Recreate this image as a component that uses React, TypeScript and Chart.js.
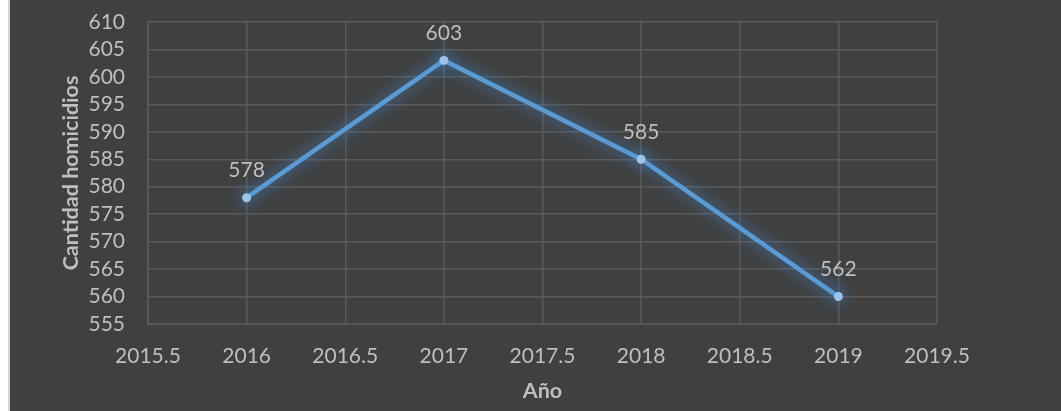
import React, { useEffect, useRef } from "react";
import { Chart, registerables } from "chart.js";

Chart.register(...registerables);

const years = [2016, 2017, 2018, 2019];
const homicidios = [578, 603, 585, 560];
const dataLabels = ["578", "603", "585", "562"];
const xTicks = { min: 2015.5, max: 2019.5, step: 0.5 };
const yTicks = { min: 555, max: 610, step: 5 };

const FONT = "Lato, 'Noto Sans', sans-serif";
const TEXT = "#bfbfbf";
const GRID = "#5a5a5a";

const glowPlugin = {
  id: "glow",
  beforeDatasetDraw(chart: any) {
    const ctx = chart.ctx;
    ctx.save();
    ctx.shadowColor = "rgba(70,140,215,1)";
    ctx.shadowBlur = 16;
  },
  afterDatasetDraw(chart: any) {
    chart.ctx.restore();
  },
};

const labelPlugin = {
  id: "pointLabels",
  afterDatasetsDraw(chart: any) {
    const ctx = chart.ctx;
    const meta = chart.getDatasetMeta(0);
    ctx.save();
    ctx.fillStyle = TEXT;
    ctx.font = `21px ${FONT}`;
    ctx.textAlign = "center";
    ctx.textBaseline = "middle";
    meta.data.forEach((pt: any, i: number) => {
      ctx.fillText(dataLabels[i], pt.x, pt.y - 27);
    });
    ctx.restore();
  },
};

export default function App() {
  const ref = useRef<HTMLCanvasElement | null>(null);

  useEffect(() => {
    if (!ref.current) return;
    const chart = new Chart(ref.current, {
      type: "line",
      data: {
        datasets: [
          {
            data: years.map((y, i) => ({ x: y, y: homicidios[i] })),
            borderColor: "#5b9bd5",
            borderWidth: 4.5,
            pointRadius: 4.5,
            pointBackgroundColor: "#9dc3e6",
            pointBorderColor: "#9dc3e6",
            pointBorderWidth: 0,
            tension: 0,
            clip: false as any,
          },
        ],
      },
      options: {
        responsive: false,
        animation: false,
        layout: { padding: { top: 22, right: 124, left: 0, bottom: 0 } },
        plugins: {
          legend: { display: false },
          tooltip: { enabled: false },
        },
        scales: {
          x: {
            type: "linear",
            min: xTicks.min,
            max: xTicks.max,
            afterFit: (s: any) => {
              s.height = 87;
            },
            ticks: {
              stepSize: xTicks.step,
              autoSkip: false,
              maxRotation: 0,
              color: TEXT,
              font: { family: FONT, size: 21 },
              padding: 20,
              callback: (v: any) => String(v),
            },
            grid: { color: GRID, lineWidth: 1.5, drawTicks: false },
            border: { color: GRID, width: 1.5 },
            title: {
              display: true,
              text: "Año",
              color: TEXT,
              font: { family: FONT, size: 21.5, weight: "bold" },
              padding: { top: 0, bottom: 7 },
            },
          },
          y: {
            type: "linear",
            min: yTicks.min,
            max: yTicks.max,
            afterFit: (s: any) => {
              s.width = 138;
            },
            ticks: {
              stepSize: yTicks.step,
              autoSkip: false,
              color: TEXT,
              font: { family: FONT, size: 21 },
              padding: 0,
              callback: (v: any) => String(v),
            },
            grid: {
              color: GRID,
              lineWidth: 1.5,
              drawTicks: true,
              tickLength: 23,
              tickColor: "rgba(0,0,0,0)",
            },
            border: { color: GRID, width: 1.5 },
            title: {
              display: true,
              text: "Cantidad homicidios",
              color: TEXT,
              font: { family: FONT, size: 21.5, weight: "bold" },
              padding: { top: 48, bottom: 0 },
            },
          },
        },
      },
      plugins: [glowPlugin, labelPlugin],
    });
    return () => chart.destroy();
  }, []);

  return (
    <div
      style={{
        position: "absolute",
        left: 8,
        top: 0,
        width: 1053,
        height: 411,
        background: "#404040",
        borderLeft: "2px solid #d4d4d4",
        boxSizing: "border-box",
      }}
    >
      <canvas ref={ref} width={1051} height={411} style={{ display: "block" }} />
    </div>
  );
}
